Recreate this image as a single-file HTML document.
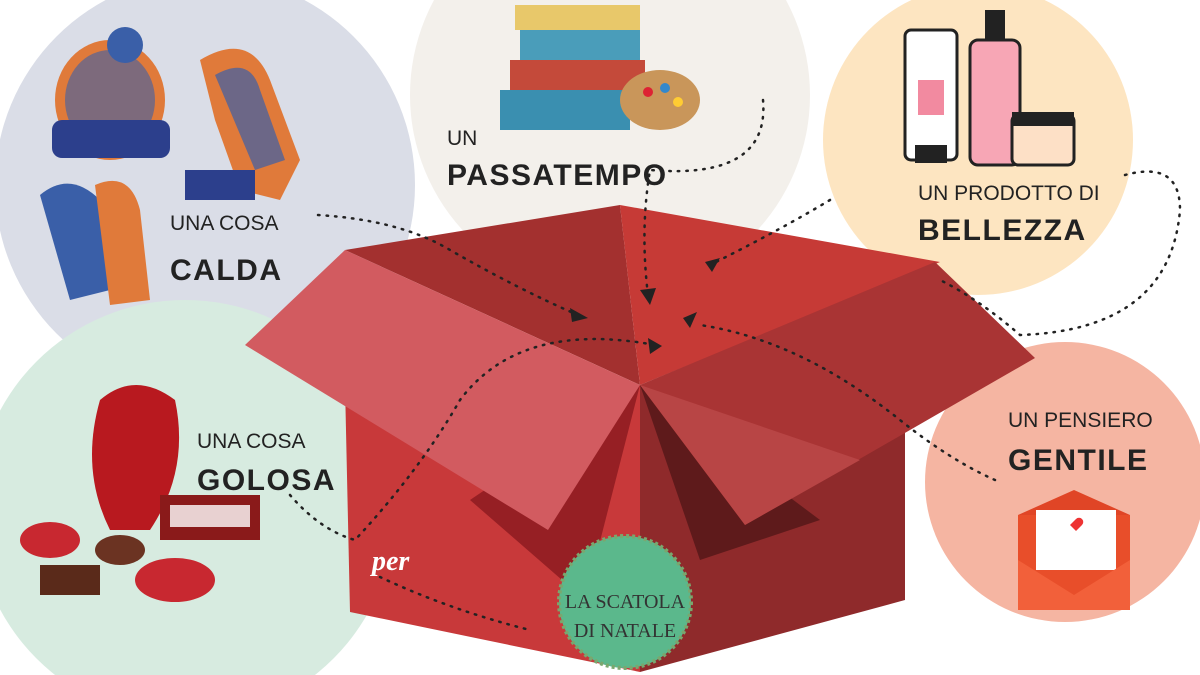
<!DOCTYPE html>
<html><head><meta charset="utf-8"><style>
html,body{margin:0;padding:0;background:#fff;width:1200px;height:675px;overflow:hidden}
svg{display:block}
.l{font-family:"Liberation Sans",sans-serif;font-size:21px;fill:#222;font-weight:300}
.b{font-family:"Liberation Sans",sans-serif;font-size:30px;font-weight:bold;fill:#222;letter-spacing:1.5px}
</style></head><body>
<svg width="1200" height="675" viewBox="0 0 1200 675">
<circle cx="205" cy="185" r="210" fill="#dadde7"/>
<circle cx="610" cy="95" r="200" fill="#f3f0eb"/>
<circle cx="978" cy="140" r="155" fill="#fde5c1"/>
<circle cx="185" cy="510" r="210" fill="#d7ebe0"/>
<circle cx="1065" cy="482" r="140" fill="#f5b5a2"/>

<ellipse cx="110" cy="100" rx="55" ry="60" fill="#e07a3a"/>
<ellipse cx="110" cy="100" rx="45" ry="50" fill="#3a5fa8" opacity=".6"/>
<rect x="52" y="120" width="118" height="38" rx="10" fill="#2c3f8c"/>
<circle cx="125" cy="45" r="18" fill="#3a5fa8"/>
<path d="M200 60 Q250 30 270 80 L300 160 L280 200 L240 190 L215 120 Z" fill="#e07a3a"/>
<path d="M215 75 Q250 55 260 90 L285 160 L255 170 Z" fill="#3a5fa8" opacity=".7"/>
<rect x="185" y="170" width="70" height="30" fill="#2c3f8c"/>
<path d="M40 195 Q70 170 100 200 L110 290 L70 300 Z" fill="#3a5fa8"/>
<path d="M95 185 Q130 170 140 210 L150 300 L110 305 Z" fill="#e07a3a"/>

<rect x="515" y="5" width="125" height="25" fill="#e8c86a"/>
<rect x="520" y="30" width="120" height="30" fill="#4a9dba"/>
<rect x="510" y="60" width="135" height="30" fill="#c44a3a"/>
<rect x="500" y="90" width="130" height="40" fill="#3a8fb0"/>
<ellipse cx="660" cy="100" rx="40" ry="30" fill="#c9965a"/>
<circle cx="648" cy="92" r="5" fill="#d23"/><circle cx="665" cy="88" r="5" fill="#38c"/><circle cx="678" cy="102" r="5" fill="#fc3"/>

<rect x="905" y="30" width="52" height="130" rx="6" fill="#fff" stroke="#222" stroke-width="3"/>
<rect x="918" y="80" width="26" height="35" fill="#f28aa0"/>
<rect x="915" y="145" width="32" height="18" fill="#222"/>
<rect x="970" y="40" width="50" height="125" rx="8" fill="#f7a6b5" stroke="#222" stroke-width="3"/>
<rect x="985" y="10" width="20" height="30" fill="#222"/>
<rect x="1012" y="115" width="62" height="50" rx="6" fill="#fde0c6" stroke="#222" stroke-width="3"/>
<rect x="1012" y="112" width="62" height="14" fill="#222"/>

<path d="M100 400 Q135 370 175 400 Q190 470 150 530 L110 530 Q80 470 100 400 Z" fill="#b8191f"/>
<rect x="160" y="495" width="100" height="45" fill="#8a1a1a"/>
<rect x="170" y="505" width="80" height="22" fill="#fff" opacity=".8"/>
<ellipse cx="50" cy="540" rx="30" ry="18" fill="#c82830"/>
<ellipse cx="175" cy="580" rx="40" ry="22" fill="#c82830"/>
<rect x="40" y="565" width="60" height="30" fill="#5a2a1a"/>
<ellipse cx="120" cy="550" rx="25" ry="15" fill="#6b3322"/>

<rect x="1018" y="515" width="112" height="95" fill="#e84e2a"/>
<path d="M1018 515 L1074 490 L1130 515" fill="#e04526"/>
<rect x="1036" y="510" width="80" height="60" fill="#fff"/>
<path d="M1070 525 l6 -6 a4 4 0 0 1 6 6 l-6 6 -6 -6z" fill="#e33"/>
<path d="M1018 560 L1074 595 L1130 560 L1130 610 L1018 610 Z" fill="#f2603a"/>

<polygon points="345,250 620,205 640,385" fill="#a3302f"/>
<polygon points="620,205 940,262 640,385" fill="#c63a36"/>
<polygon points="345,385 640,385 640,672 350,612" fill="#c8393a"/>
<polygon points="640,385 905,400 905,600 640,672" fill="#8f2a2b"/>
<polygon points="470,500 640,385 585,600" fill="#961f24"/>
<polygon points="640,385 820,520 700,560" fill="#5e1a1b"/>
<polygon points="245,345 345,250 640,385 548,530" fill="#d25b60"/>
<polygon points="640,385 935,262 1035,358 745,525" fill="#a93434"/>
<polygon points="640,385 745,525 860,460" fill="#b84545"/>

<g fill="none" stroke="#222" stroke-width="2.5" stroke-dasharray="1.5 7" stroke-linecap="round">
<path d="M318 215 Q400 220 450 250 Q520 290 578 315"/>
<path d="M763 100 Q770 180 650 170 Q640 230 648 295"/>
<path d="M830 200 Q780 230 710 265"/>
<path d="M1125 175 Q1180 160 1180 210 Q1170 330 1020 335 Q980 300 940 280"/>
<path d="M995 480 Q950 460 900 420 Q800 340 700 325"/>
<path d="M290 495 Q320 530 355 540 Q420 470 460 400 Q520 320 655 345"/>
<path d="M380 577 Q450 610 530 630"/>
</g>
<g fill="#222">
<polygon points="570,308 588,318 572,322"/>
<polygon points="640,290 650,305 656,288"/>
<polygon points="705,262 720,258 712,272"/>
<polygon points="683,318 697,312 690,328"/>
<polygon points="648,338 662,346 650,354"/>
</g>

<circle cx="625" cy="602" r="66" fill="#5bb88c" stroke="#7aa76e" stroke-width="4" stroke-dasharray="3 3"/>
<text x="625" y="608" text-anchor="middle" font-family="Liberation Serif,serif" font-size="20" fill="#333">LA SCATOLA</text>
<text x="625" y="637" text-anchor="middle" font-family="Liberation Serif,serif" font-size="20" fill="#333">DI NATALE</text>
<text x="372" y="570" font-family="Liberation Serif,serif" font-style="italic" font-weight="bold" font-size="28" fill="#fff">per</text>

<text class="l" x="170" y="230">UNA COSA</text>
<text class="b" x="170" y="280">CALDA</text>
<text class="l" x="447" y="145">UN</text>
<text class="b" x="447" y="185">PASSATEMPO</text>
<text class="l" x="918" y="200">UN PRODOTTO DI</text>
<text class="b" x="918" y="240">BELLEZZA</text>
<text class="l" x="197" y="448">UNA COSA</text>
<text class="b" x="197" y="490">GOLOSA</text>
<text class="l" x="1008" y="427">UN PENSIERO</text>
<text class="b" x="1008" y="470">GENTILE</text>
</svg>
</body></html>
